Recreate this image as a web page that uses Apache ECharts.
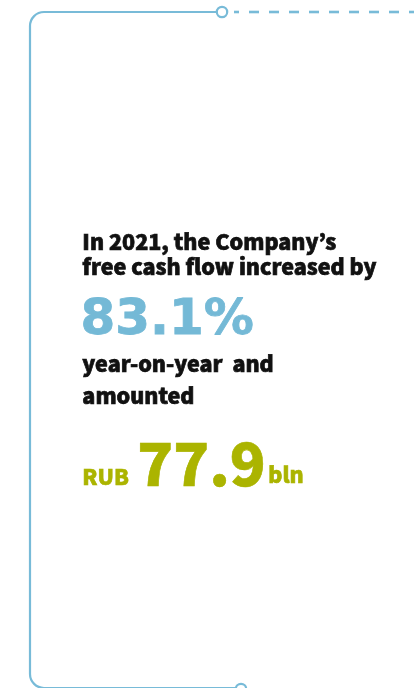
<!DOCTYPE html>
<html>
<head>
<meta charset="utf-8">
<script src="https://cdn.jsdelivr.net/npm/echarts@6/dist/echarts.min.js"></script>
<style>
html,body{margin:0;padding:0;background:#fff;}
#chart{width:414px;height:688px;}
</style>
</head>
<body>
<div id="chart"></div>
<script>
// ---- data ----
const reportYear = [2021];
const headlineLines = ["In 2021, the Company’s", "free cash flow increased by"];
const growthPct = [83.1];
const middleLines = ["year-on-year  and", "amounted"];
const fcfValue = [77.9];
const fcfUnits = ["RUB", "bln"];

// ---- styles ----
const BLUE = '#78bbd8';
const TEXT_BLUE = '#74b9d6';
const GREEN = '#abb400';
const BODY_FONT = '"Noto Sans CJK JP"';
const BIG_FONT = '"DejaVu Sans"';

const chart = echarts.init(document.getElementById('chart'), null, {renderer: 'canvas'});

const lineStyle = {stroke: BLUE, lineWidth: 2.2, fill: null};
const body = (text, left, top, fill, size, sw) => ({
  type: 'text', left: left, top: top,
  style: {text: text, fill: fill, stroke: fill, lineWidth: sw, font: '900 ' + size + 'px ' + BODY_FONT}
});

const graphics = [
  {type: 'line', shape: {x1: 44, y1: 12, x2: 217, y2: 12}, style: lineStyle},
  {type: 'arc', shape: {cx: 44, cy: 26, r: 14, startAngle: Math.PI, endAngle: Math.PI * 1.5, clockwise: true}, style: lineStyle},
  {type: 'line', shape: {x1: 30, y1: 26, x2: 30, y2: 674}, style: lineStyle},
  {type: 'arc', shape: {cx: 44, cy: 674, r: 14, startAngle: Math.PI * 0.5, endAngle: Math.PI, clockwise: true}, style: lineStyle},
  {type: 'line', shape: {x1: 44, y1: 688, x2: 236, y2: 688}, style: lineStyle},
  {type: 'line', shape: {x1: 234, y1: 12, x2: 414, y2: 12},
   style: {stroke: BLUE, lineWidth: 2.6, lineDash: [10, 10], lineDashOffset: 5}},
  {type: 'circle', shape: {cx: 222, cy: 12, r: 5.2}, style: {fill: '#fff', stroke: BLUE, lineWidth: 2.2}},
  {type: 'circle', shape: {cx: 241, cy: 689, r: 5.2}, style: {fill: '#fff', stroke: BLUE, lineWidth: 2.2}},
  body(headlineLines[0], 82, 231, '#111', 21.5, 0.7),
  body(headlineLines[1], 82, 256, '#111', 21.5, 0.7),
  {type: 'text', left: 80, top: 296,
   style: {text: growthPct[0].toFixed(1) + '%', fill: TEXT_BLUE, stroke: TEXT_BLUE, lineWidth: 0.8,
           font: 'bold 50px ' + BIG_FONT}},
  body(middleLines[0], 82, 353, '#111', 21.5, 0.7),
  body(middleLines[1], 82, 385, '#111', 21.5, 0.7),
  body(fcfUnits[0], 82, 466, GREEN, 21.5, 0.6),
  body(fcfValue[0].toFixed(1), 137, 434, GREEN, 59, 0.6),
  body(fcfUnits[1], 268, 464, GREEN, 21.5, 0.6)
];

chart.setOption({
  animation: false,
  backgroundColor: '#fff',
  graphic: {elements: graphics}
});
</script>
</body>
</html>
